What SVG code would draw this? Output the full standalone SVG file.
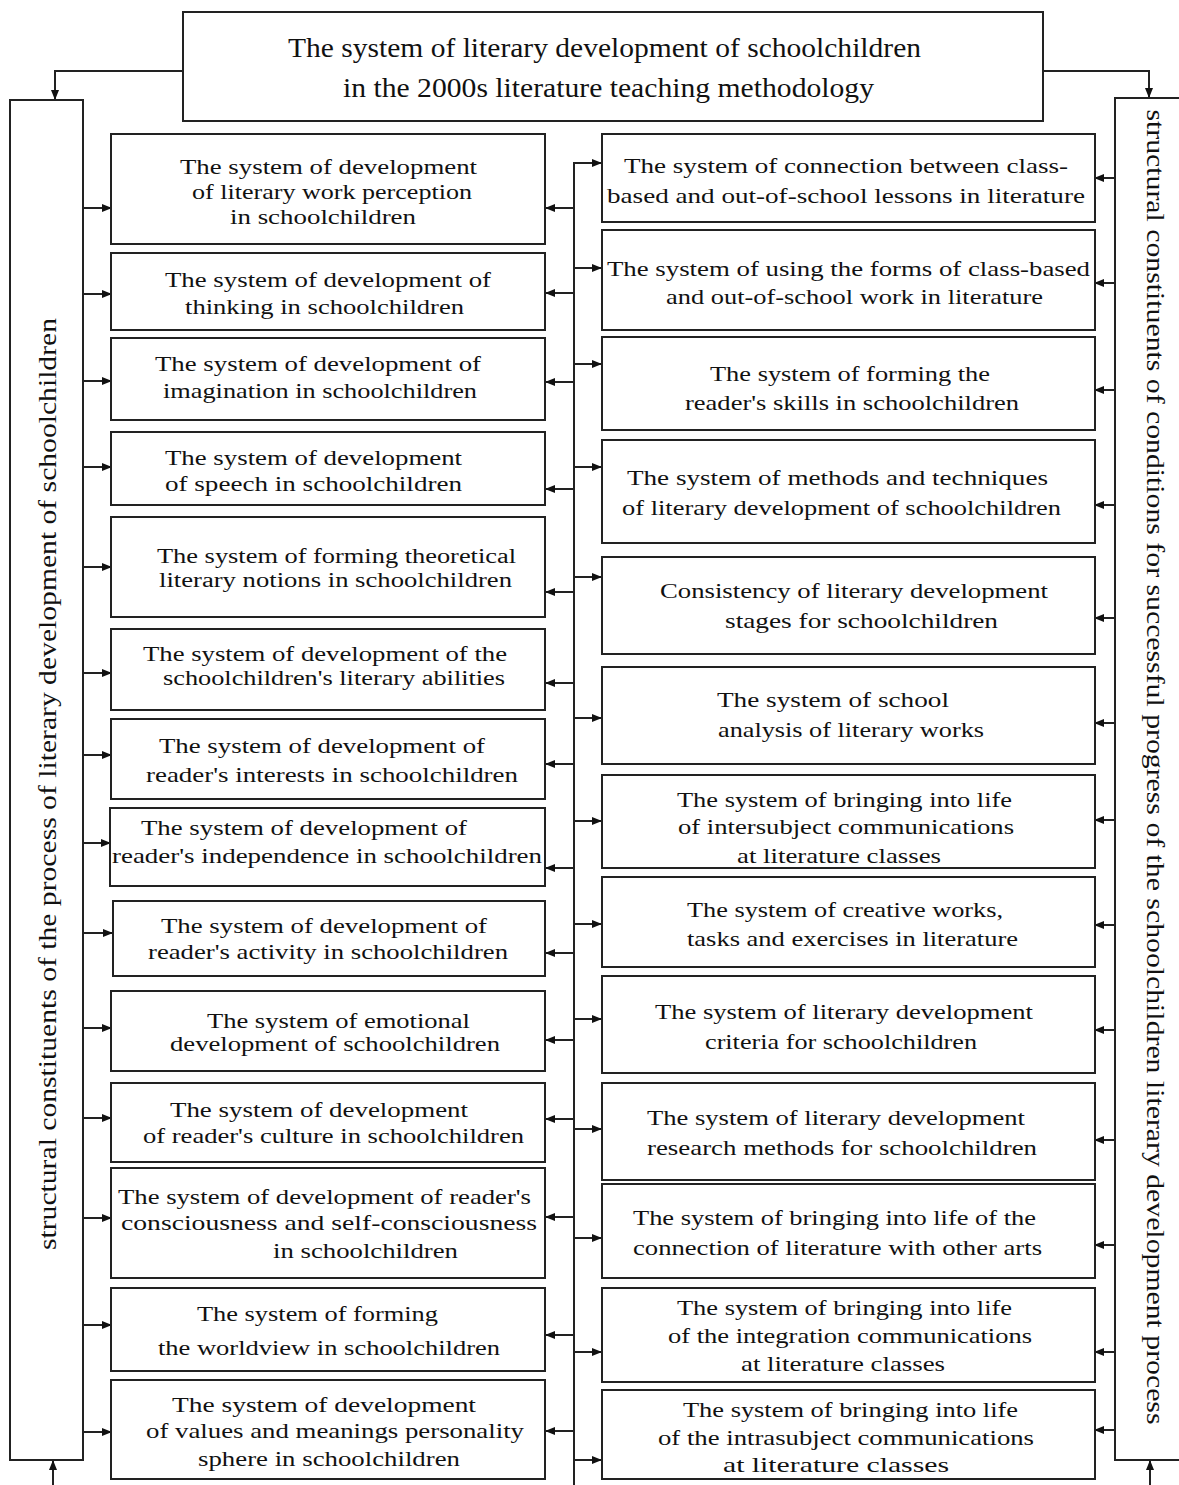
<svg xmlns="http://www.w3.org/2000/svg" width="1179" height="1485" viewBox="0 0 1179 1485">
<defs>
<marker id="ah" markerUnits="userSpaceOnUse" markerWidth="10" markerHeight="8" refX="9" refY="4" orient="auto">
<path d="M0,0 L10,4 L0,8 Z" fill="#111"/>
</marker>
<style>
.box{fill:#fff;stroke:#222;stroke-width:2}
.t{font-family:"Liberation Serif","DejaVu Serif",serif;font-size:22px;fill:#111;dominant-baseline:central}
.ts{font-family:"Liberation Serif","DejaVu Serif",serif;font-size:20px;fill:#111;dominant-baseline:central}
.tt{font-family:"Liberation Serif","DejaVu Serif",serif;font-size:27px;fill:#111;dominant-baseline:central}
.v{font-family:"Liberation Serif","DejaVu Serif",serif;font-size:25px;fill:#111;dominant-baseline:central;text-anchor:middle}
.c{fill:none;stroke:#222;stroke-width:2}
.a{fill:none;stroke:#222;stroke-width:2;marker-end:url(#ah)}
</style>
</defs>
<rect width="1179" height="1485" fill="#fff"/>

<g id="connectors">
<path class="a" d="M183,71 H55 V99"/>
<path class="a" d="M1043,71 H1149 V97"/>
<path class="a" d="M53,1485 V1461"/>
<path class="a" d="M1150,1485 V1461"/>
<path class="c" d="M574,163 V1485"/>
<path class="a" d="M83,208 H111"/>
<path class="a" d="M83,294 H111"/>
<path class="a" d="M83,381 H111"/>
<path class="a" d="M83,467 H111"/>
<path class="a" d="M83,567 H111"/>
<path class="a" d="M83,673 H111"/>
<path class="a" d="M83,755 H111"/>
<path class="a" d="M83,843 H110"/>
<path class="a" d="M83,933 H112"/>
<path class="a" d="M83,1028 H111"/>
<path class="a" d="M83,1118 H111"/>
<path class="a" d="M83,1218 H111"/>
<path class="a" d="M83,1325 H111"/>
<path class="a" d="M83,1432 H111"/>
<path class="a" d="M574,208 H546"/>
<path class="a" d="M574,293 H546"/>
<path class="a" d="M574,382 H546"/>
<path class="a" d="M574,489 H546"/>
<path class="a" d="M574,592 H546"/>
<path class="a" d="M574,683 H546"/>
<path class="a" d="M574,764 H546"/>
<path class="a" d="M574,868 H546"/>
<path class="a" d="M574,953 H546"/>
<path class="a" d="M574,1040 H546"/>
<path class="a" d="M574,1119 H546"/>
<path class="a" d="M574,1217 H546"/>
<path class="a" d="M574,1335 H546"/>
<path class="a" d="M574,1431 H546"/>
<path class="a" d="M573,163 H601"/>
<path class="a" d="M574,268 H601"/>
<path class="a" d="M574,364 H601"/>
<path class="a" d="M574,467 H601"/>
<path class="a" d="M574,577 H601"/>
<path class="a" d="M574,718 H601"/>
<path class="a" d="M574,821 H601"/>
<path class="a" d="M574,924 H601"/>
<path class="a" d="M574,1019 H601"/>
<path class="a" d="M574,1129 H601"/>
<path class="a" d="M574,1238 H601"/>
<path class="a" d="M574,1352 H601"/>
<path class="a" d="M574,1460 H601"/>
<path class="a" d="M1115,178 H1095"/>
<path class="a" d="M1115,283 H1095"/>
<path class="a" d="M1115,390 H1095"/>
<path class="a" d="M1115,505 H1095"/>
<path class="a" d="M1115,618 H1095"/>
<path class="a" d="M1115,723 H1095"/>
<path class="a" d="M1115,820 H1095"/>
<path class="a" d="M1115,925 H1095"/>
<path class="a" d="M1115,1030 H1095"/>
<path class="a" d="M1115,1140 H1095"/>
<path class="a" d="M1115,1245 H1095"/>
<path class="a" d="M1115,1352 H1095"/>
<path class="a" d="M1115,1430 H1095"/>
</g>

<g id="top">
<rect class="box" x="183" y="12" width="860" height="109"/>
<text class="tt" x="288" y="48" textLength="633" lengthAdjust="spacingAndGlyphs">The system of literary development of schoolchildren</text>
<text class="tt" x="343" y="88" textLength="531" lengthAdjust="spacingAndGlyphs">in the 2000s literature teaching methodology</text>
</g>

<g id="left-axis">
<rect class="box" x="10" y="100" width="73" height="1360"/>
<text class="v" transform="translate(47,784) rotate(-90)" textLength="932" lengthAdjust="spacingAndGlyphs">structural constituents of the process of literary development of schoolchildren</text>
</g>

<g id="right-axis">
<rect class="box" x="1115" y="98" width="80" height="1362"/>
<text class="v" transform="translate(1155,767) rotate(90)" textLength="1315" lengthAdjust="spacingAndGlyphs">structural constituents of conditions for successful progress of the schoolchildren literary development process</text>
</g>

<g id="L1"><rect class="box" x="111" y="134" width="434" height="110"/>
<text class="t" x="180" y="166" textLength="297" lengthAdjust="spacingAndGlyphs">The system of development</text>
<text class="t" x="192" y="191" textLength="280" lengthAdjust="spacingAndGlyphs">of literary work perception</text>
<text class="t" x="230" y="216" textLength="186" lengthAdjust="spacingAndGlyphs">in schoolchildren</text></g>

<g id="L2"><rect class="box" x="111" y="253" width="434" height="77"/>
<text class="t" x="165" y="279" textLength="326" lengthAdjust="spacingAndGlyphs">The system of development of</text>
<text class="t" x="185" y="306" textLength="279" lengthAdjust="spacingAndGlyphs">thinking in schoolchildren</text></g>

<g id="L3"><rect class="box" x="111" y="338" width="434" height="82"/>
<text class="t" x="155" y="363" textLength="326" lengthAdjust="spacingAndGlyphs">The system of development of</text>
<text class="t" x="163" y="390" textLength="314" lengthAdjust="spacingAndGlyphs">imagination in schoolchildren</text></g>

<g id="L4"><rect class="box" x="111" y="432" width="434" height="73"/>
<text class="t" x="165" y="457" textLength="297" lengthAdjust="spacingAndGlyphs">The system of development</text>
<text class="t" x="165" y="483" textLength="297" lengthAdjust="spacingAndGlyphs">of speech in schoolchildren</text></g>

<g id="L5"><rect class="box" x="111" y="517" width="434" height="100"/>
<text class="ts" x="157" y="556" textLength="359" lengthAdjust="spacingAndGlyphs">The system of forming theoretical</text>
<text class="ts" x="159" y="580" textLength="353" lengthAdjust="spacingAndGlyphs">literary notions in schoolchildren</text></g>

<g id="L6"><rect class="box" x="111" y="629" width="434" height="81"/>
<text class="t" x="143" y="653" textLength="364" lengthAdjust="spacingAndGlyphs">The system of development of the</text>
<text class="t" x="163" y="677" textLength="342" lengthAdjust="spacingAndGlyphs">schoolchildren's literary abilities</text></g>

<g id="L7"><rect class="box" x="111" y="719" width="434" height="80"/>
<text class="t" x="159" y="745" textLength="326" lengthAdjust="spacingAndGlyphs">The system of development of</text>
<text class="t" x="146" y="774" textLength="372" lengthAdjust="spacingAndGlyphs">reader's interests in schoolchildren</text></g>

<g id="L8"><rect class="box" x="110" y="808" width="435" height="78"/>
<text class="t" x="141" y="827" textLength="326" lengthAdjust="spacingAndGlyphs">The system of development of</text>
<text class="t" x="112" y="855" textLength="430" lengthAdjust="spacingAndGlyphs">reader's independence in schoolchildren</text></g>

<g id="L9"><rect class="box" x="113" y="901" width="432" height="75"/>
<text class="t" x="161" y="925" textLength="326" lengthAdjust="spacingAndGlyphs">The system of development of</text>
<text class="t" x="148" y="951" textLength="360" lengthAdjust="spacingAndGlyphs">reader's activity in schoolchildren</text></g>

<g id="L10"><rect class="box" x="111" y="991" width="434" height="80"/>
<text class="t" x="207" y="1020" textLength="263" lengthAdjust="spacingAndGlyphs">The system of emotional</text>
<text class="t" x="170" y="1043" textLength="330" lengthAdjust="spacingAndGlyphs">development of schoolchildren</text></g>

<g id="L11"><rect class="box" x="111" y="1083" width="434" height="79"/>
<text class="t" x="170" y="1109" textLength="298" lengthAdjust="spacingAndGlyphs">The system of development</text>
<text class="t" x="143" y="1135" textLength="381" lengthAdjust="spacingAndGlyphs">of reader's culture in schoolchildren</text></g>

<g id="L12"><rect class="box" x="111" y="1168" width="434" height="110"/>
<text class="t" x="118" y="1196" textLength="413" lengthAdjust="spacingAndGlyphs">The system of development of reader's</text>
<text class="t" x="121" y="1222" textLength="416" lengthAdjust="spacingAndGlyphs">consciousness and self-consciousness</text>
<text class="t" x="273" y="1250" textLength="185" lengthAdjust="spacingAndGlyphs">in schoolchildren</text></g>

<g id="L13"><rect class="box" x="111" y="1288" width="434" height="83"/>
<text class="t" x="197" y="1313" textLength="241" lengthAdjust="spacingAndGlyphs">The system of forming</text>
<text class="t" x="158" y="1347" textLength="342" lengthAdjust="spacingAndGlyphs">the worldview in schoolchildren</text></g>

<g id="L14"><rect class="box" x="111" y="1380" width="434" height="99"/>
<text class="t" x="172" y="1404" textLength="304" lengthAdjust="spacingAndGlyphs">The system of development</text>
<text class="t" x="146" y="1430" textLength="378" lengthAdjust="spacingAndGlyphs">of values and meanings personality</text>
<text class="t" x="198" y="1458" textLength="262" lengthAdjust="spacingAndGlyphs">sphere in schoolchildren</text></g>

<g id="R1"><rect class="box" x="602" y="134" width="493" height="88"/>
<text class="t" x="624" y="165" textLength="444" lengthAdjust="spacingAndGlyphs">The system of connection between class-</text>
<text class="t" x="607" y="195" textLength="478" lengthAdjust="spacingAndGlyphs">based and out-of-school lessons in literature</text></g>

<g id="R2"><rect class="box" x="602" y="230" width="493" height="100"/>
<text class="t" x="607" y="268" textLength="483" lengthAdjust="spacingAndGlyphs">The system of using the forms of class-based</text>
<text class="t" x="666" y="296" textLength="377" lengthAdjust="spacingAndGlyphs">and out-of-school work in literature</text></g>

<g id="R3"><rect class="box" x="602" y="337" width="493" height="93"/>
<text class="t" x="710" y="373" textLength="280" lengthAdjust="spacingAndGlyphs">The system of forming the</text>
<text class="t" x="685" y="402" textLength="334" lengthAdjust="spacingAndGlyphs">reader's skills in schoolchildren</text></g>

<g id="R4"><rect class="box" x="602" y="440" width="493" height="103"/>
<text class="t" x="627" y="477" textLength="421" lengthAdjust="spacingAndGlyphs">The system of methods and techniques</text>
<text class="t" x="622" y="507" textLength="439" lengthAdjust="spacingAndGlyphs">of literary development of schoolchildren</text></g>

<g id="R5"><rect class="box" x="602" y="557" width="493" height="97"/>
<text class="t" x="660" y="590" textLength="388" lengthAdjust="spacingAndGlyphs">Consistency of literary development</text>
<text class="t" x="725" y="620" textLength="273" lengthAdjust="spacingAndGlyphs">stages for schoolchildren</text></g>

<g id="R6"><rect class="box" x="602" y="667" width="493" height="97"/>
<text class="t" x="717" y="699" textLength="232" lengthAdjust="spacingAndGlyphs">The system of school</text>
<text class="t" x="718" y="729" textLength="266" lengthAdjust="spacingAndGlyphs">analysis of literary works</text></g>

<g id="R7"><rect class="box" x="602" y="775" width="493" height="93"/>
<text class="t" x="677" y="799" textLength="335" lengthAdjust="spacingAndGlyphs">The system of bringing into life</text>
<text class="t" x="678" y="826" textLength="336" lengthAdjust="spacingAndGlyphs">of intersubject communications</text>
<text class="t" x="737" y="855" textLength="204" lengthAdjust="spacingAndGlyphs">at literature classes</text></g>

<g id="R8"><rect class="box" x="602" y="877" width="493" height="90"/>
<text class="t" x="687" y="909" textLength="316" lengthAdjust="spacingAndGlyphs">The system of creative works,</text>
<text class="t" x="687" y="938" textLength="331" lengthAdjust="spacingAndGlyphs">tasks and exercises in literature</text></g>

<g id="R9"><rect class="box" x="602" y="976" width="493" height="97"/>
<text class="t" x="655" y="1011" textLength="378" lengthAdjust="spacingAndGlyphs">The system of literary development</text>
<text class="t" x="705" y="1041" textLength="272" lengthAdjust="spacingAndGlyphs">criteria for schoolchildren</text></g>

<g id="R10"><rect class="box" x="602" y="1083" width="493" height="97"/>
<text class="t" x="647" y="1117" textLength="378" lengthAdjust="spacingAndGlyphs">The system of literary development</text>
<text class="t" x="647" y="1147" textLength="390" lengthAdjust="spacingAndGlyphs">research methods for schoolchildren</text></g>

<g id="R11"><rect class="box" x="602" y="1184" width="493" height="94"/>
<text class="t" x="633" y="1217" textLength="403" lengthAdjust="spacingAndGlyphs">The system of bringing into life of the</text>
<text class="t" x="633" y="1247" textLength="409" lengthAdjust="spacingAndGlyphs">connection of literature with other arts</text></g>

<g id="R12"><rect class="box" x="602" y="1288" width="493" height="94"/>
<text class="t" x="677" y="1307" textLength="335" lengthAdjust="spacingAndGlyphs">The system of bringing into life</text>
<text class="t" x="668" y="1335" textLength="364" lengthAdjust="spacingAndGlyphs">of the integration communications</text>
<text class="t" x="741" y="1363" textLength="204" lengthAdjust="spacingAndGlyphs">at literature classes</text></g>

<g id="R13"><rect class="box" x="602" y="1390" width="493" height="89"/>
<text class="t" x="683" y="1409" textLength="335" lengthAdjust="spacingAndGlyphs">The system of bringing into life</text>
<text class="t" x="658" y="1437" textLength="376" lengthAdjust="spacingAndGlyphs">of the intrasubject communications</text>
<text class="t" x="723" y="1464" textLength="226" lengthAdjust="spacingAndGlyphs">at literature classes</text></g>
</svg>
